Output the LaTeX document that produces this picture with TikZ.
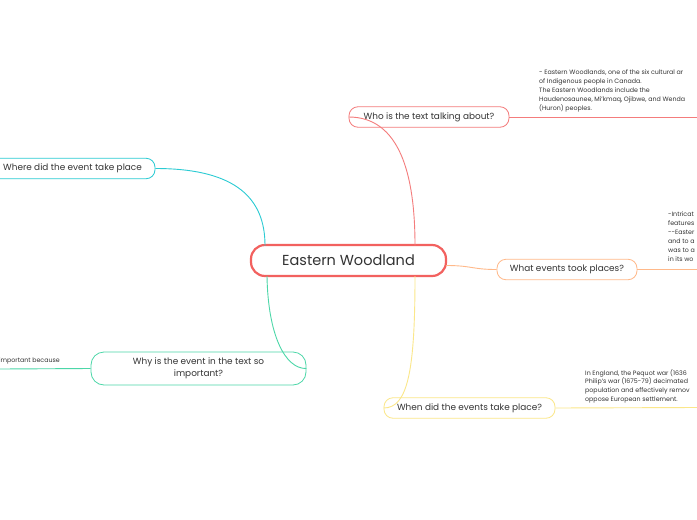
\documentclass[tikz,border=0pt]{standalone}
\usepackage{fontspec}
\setmainfont{Poppins}
\usetikzlibrary{calc}
\definecolor{cred}{HTML}{F2615F}
\definecolor{cwho}{HTML}{F47C7C}
\definecolor{corange}{HTML}{FFB98A}
\definecolor{cyellow}{HTML}{FBE78A}
\definecolor{ccyan}{HTML}{2BCBD3}
\definecolor{cgreen}{HTML}{4CD7A8}
\definecolor{ctext}{HTML}{333333}
\tikzset{
  mainbox/.style={draw=cred, line width=2.2pt, rounded corners=14pt, fill=white,
    minimum width=195pt, minimum height=31pt, inner sep=0pt, text=ctext,
    font=\fontsize{14.5}{16}\selectfont},
  subbox/.style={line width=0.8pt, rounded corners=9pt, fill=white,
    minimum height=20.5pt, inner sep=0pt, text=ctext,
    font=\fontsize{8.9}{11.5}\selectfont},
  notetext/.style={anchor=north west, align=left, inner sep=0pt, text=ctext,
    font=\fontsize{6.3}{8.9}\selectfont},
  conn/.style={line width=0.9pt},
}
\begin{document}
\begin{tikzpicture}[x=1pt,y=-1pt]
\fill[white] (0,0) rectangle (697,520);
\useasboundingbox (0,0) rectangle (697,520);
\clip (0,0) rectangle (697,520);

% edge coordinates
\coordinate (ewho) at (697,117);
\coordinate (ewhat) at (697,269.5);
\coordinate (ewhen) at (697,407.5);
\coordinate (ewhy) at (0,369);

% connector end points on the central node
\coordinate (cNR) at (415,245.5);
\coordinate (cSY) at (415,276);
\coordinate (cE) at (446,265.5);
\coordinate (cNW) at (265,245.5);
\coordinate (cSW) at (267,276);

% nodes
\node[mainbox] (c) at (348.5,260.5) {Eastern Woodland};
\node[subbox, draw=cwho, minimum width=160pt] (who) at (429,117) {Who is the text talking about?};
\node[subbox, draw=corange, minimum width=140pt] (what) at (567,269.5) {What events took places?};
\node[subbox, draw=cyellow, minimum width=171pt] (when) at (469.5,408) {When did the events take place?};
\node[subbox, draw=ccyan, minimum width=165pt] (where) at (72.5,168.5) {Where did the event take place};
\node[subbox, draw=cgreen, minimum width=215pt, minimum height=33pt, rounded corners=13pt, align=center] (why) at (198.5,368.5) {Why is the event in the text so\\important?};

% connectors
\draw[conn, cwho] (who.west) .. controls (400,117) and (415,175) .. (cNR);
\draw[conn, cyellow] (cSY) .. controls (415,370) and (408,408) .. (when.west);
\draw[conn, corange] (cE) .. controls (472,265.5) and (472,269.5) .. (what.west);
\draw[conn, ccyan] (where.east) .. controls (238,168.5) and (265,200) .. (cNW);
\draw[conn, cgreen] (cSW) .. controls (268,335) and (285,369) .. (why.east);

\draw[conn, cwho] (who.east) -- (ewho);
\draw[conn, corange] (what.east) -- (ewhat);
\draw[conn, cyellow] (when.east) -- (ewhen);
\draw[conn, cgreen] (why.west) -- (ewhy);

% notes
\node[notetext] (nwho) at (539,69.5) {- Eastern Woodlands, one of the six cultural ar\\of Indigenous people in Canada.\\The Eastern Woodlands include the\\Haudenosaunee, Mi'kmaq, Ojibwe, and Wenda\\(Huron) peoples.};
\node[notetext] (nwhat) at (668,212) {-Intricat\\features\\-{}-Easter\\and to a\\was to a\\in its wo};
\node[notetext] (nwhen) at (585,369) {In England, the Pequot war (1636\\Philip's war (1675-79) decimated\\population and effectively remov\\oppose European settlement.};
\node[notetext, anchor=north east] (nwhy) at (60,357.5) {important because};
\end{tikzpicture}
\end{document}
